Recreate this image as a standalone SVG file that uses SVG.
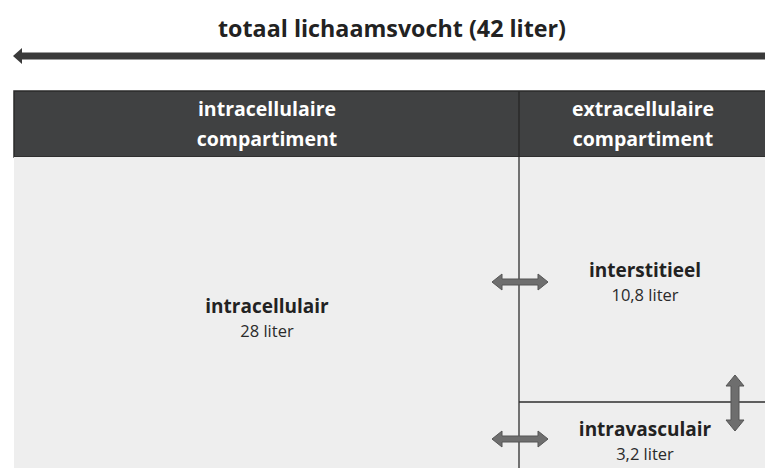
<svg xmlns="http://www.w3.org/2000/svg" width="765" height="468" viewBox="0 0 765 468">
<style>
.title{font-family:"Open Sans","Liberation Sans",sans-serif;font-weight:bold;font-size:23px;fill:#222222;text-anchor:middle}
.hdr{font-family:"Open Sans","Liberation Sans",sans-serif;font-weight:bold;font-size:19.5px;fill:#ffffff;text-anchor:middle}
.lbl{font-family:"Open Sans","Liberation Sans",sans-serif;font-weight:bold;font-size:19px;fill:#222222;text-anchor:middle}
.sub{font-family:"Open Sans","Liberation Sans",sans-serif;font-size:16.5px;fill:#2a2a2a;text-anchor:middle}
.dbl{fill:#6e6e6e;stroke:#555555;stroke-width:1}
.line{stroke:#2e2e2e;stroke-width:1.3;fill:none}
</style>
<rect x="0" y="0" width="765" height="468" fill="#ffffff"/>
<g id="title">
<text class="title" x="392" y="37" textLength="348" lengthAdjust="spacingAndGlyphs">totaal lichaamsvocht (42 liter)</text>
<path d="M765,52.5 L22,52.5 L22,48 L13,56 L22,64 L22,59.5 L765,59.5 Z" fill="#3a3a3a"/>
</g>
<g id="header">
<rect x="14" y="91" width="752" height="66" fill="#404142" stroke="#2a2a2a" stroke-width="1.5"/>
<line x1="519" y1="91" x2="519" y2="157" stroke="#2a2a2a" stroke-width="1.5"/>
<text class="hdr" x="267" y="116">intracellulaire</text>
<text class="hdr" x="267" y="146">compartiment</text>
<text class="hdr" x="643" y="116">extracellulaire</text>
<text class="hdr" x="643" y="146">compartiment</text>
</g>
<g id="body">
<rect x="14" y="157" width="752" height="312" fill="#eeeeee"/>
</g>
<g id="connectors">
<line class="line" x1="519" y1="157" x2="519" y2="468"/>
<line class="line" x1="519" y1="402" x2="765" y2="402"/>
<path class="dbl" d="M492,282 L502,274 L502,279 L538,279 L538,274 L548,282 L538,290 L538,285 L502,285 L502,290 Z"/>
<path class="dbl" d="M492,439 L502,431 L502,436 L538,436 L538,431 L548,439 L538,447 L538,442 L502,442 L502,447 Z"/>
<path class="dbl" d="M735,375 L744,386 L739,386 L739,420 L744,420 L735,431 L726,420 L731,420 L731,386 L726,386 Z"/>
</g>
<g id="intracellulair">
<text class="lbl" x="267" y="313">intracellulair</text>
<text class="sub" x="267" y="337">28 liter</text>
</g>
<g id="interstitieel">
<text class="lbl" x="645" y="277">interstitieel</text>
<text class="sub" x="645" y="301">10,8 liter</text>
</g>
<g id="intravasculair">
<text class="lbl" x="645" y="436">intravasculair</text>
<text class="sub" x="645" y="460">3,2 liter</text>
</g>
</svg>
